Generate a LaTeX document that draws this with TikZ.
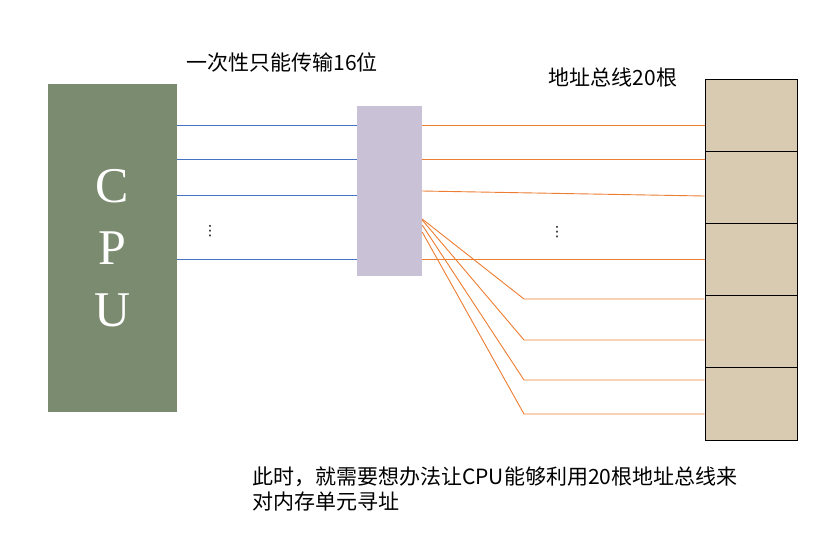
\documentclass[tikz,border=0pt]{standalone}
\usepackage{fontspec}
\setmainfont{Liberation Serif}
\newfontfamily\cjk{Noto Sans CJK SC}
\newfontfamily\symfont{DejaVu Sans}
\usepackage{xcolor}
\usetikzlibrary{positioning}
\definecolor{cpugreen}{HTML}{7B8B6F}
\definecolor{bufpurple}{HTML}{C9C1D5}
\definecolor{cellbeige}{HTML}{D9CBB1}
\definecolor{busblue}{HTML}{4472C4}
\definecolor{addrorange}{HTML}{ED7D31}
\tikzset{
  cpubox/.style={rectangle, fill=cpugreen, minimum width=129pt, minimum height=328pt, inner sep=0pt, text=white, align=center, font=\fontsize{50}{62}\selectfont},
  bufbox/.style={rectangle, fill=bufpurple, minimum width=65pt, minimum height=170pt, inner sep=0pt},
  cell/.style={draw=black, line width=1pt, fill=cellbeige, minimum width=92pt, minimum height=72.2pt, inner sep=0pt},
  caption/.style={font=\cjk\fontsize{21}{25}\selectfont, inner sep=0pt},
  dots/.style={font=\symfont\fontsize{14}{14}\selectfont, inner sep=0pt},
  databus/.style={draw=busblue, line width=0.9pt},
  addrbus/.style={draw=addrorange, line width=0.9pt}
}

\begin{document}
\begin{tikzpicture}[x=1pt, y=-1pt]
    \useasboundingbox (0,0) rectangle (822,542);

    \node[cpubox] (cpu) at (112.5,248) {C\\P\\U};
    \node[bufbox] (buf) at (389.5,191) {};
    \foreach \i in {1,...,5}
        \node[cell] (mem\i) at (751,{115.1+72.2*(\i-1)}) {};

    \node[caption] (bustitle) at (282,62.5) {一次性只能传输16位};
    \node[caption] (addrtitle) at (613,77) {地址总线20根};
    \node[caption, anchor=west, align=left] (note) at (252,489.5)
        {此时，就需要想办法让CPU能够利用20根地址总线来\\对内存单元寻址};

    \node[dots] (datadots) at (210,231) {⋮};
    \node[dots] (addrdots) at (557,232) {⋮};

    % 16 data lines
    \foreach \y in {125,159,195,259}
        \draw[databus] (cpu.east |- 0,\y) -- (buf.west |- 0,\y);

    % 20 address lines
    \foreach \y/\c in {125/1,159/2,259/3}
        \draw[addrbus] (buf.east |- 0,\y) -- (mem\c.west |- 0,\y);
    \draw[addrbus] (buf.east |- 0,191) -- (mem2.west |- 0,196);

    \coordinate (k1) at (524,299);
    \coordinate (k2) at (524,340);
    \coordinate (k3) at (524,380);
    \coordinate (k4) at (524,414);
    \draw[addrbus] (buf.east |- 0,219) -- (k1) -- (mem4.west |- k1);
    \draw[addrbus] (buf.east |- 0,220) -- (k2) -- (mem4.west |- k2);
    \draw[addrbus] (buf.east |- 0,225) -- (k3) -- (mem5.west |- k3);
    \draw[addrbus] (buf.east |- 0,232) -- (k4) -- (mem5.west |- k4);
\end{tikzpicture}
\end{document}
